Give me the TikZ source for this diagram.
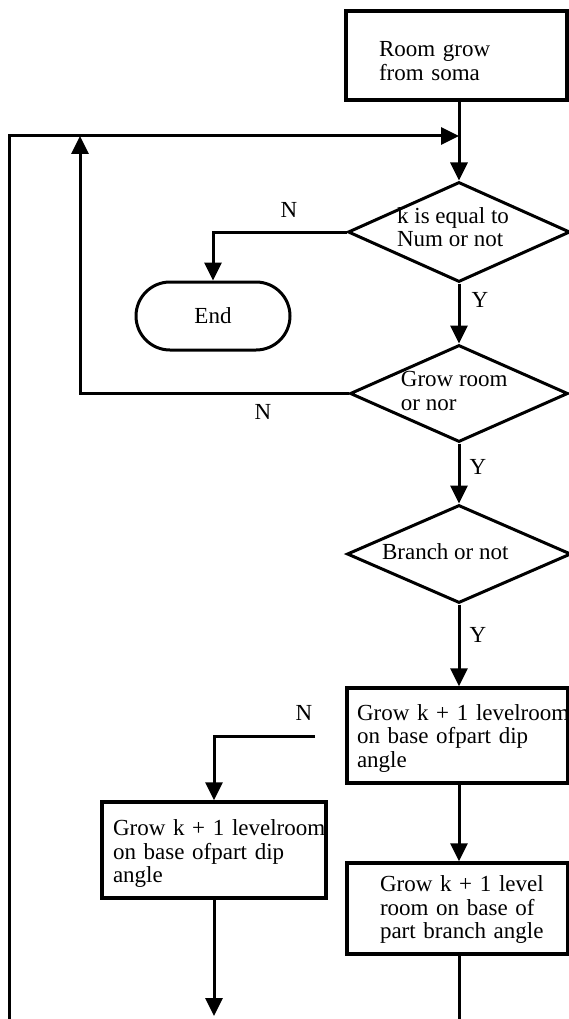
\documentclass[tikz,border=0pt]{standalone}
\usepackage{fontspec}
\setmainfont{Liberation Serif}
\usetikzlibrary{shapes.geometric,arrows.meta}
\newcommand{\lift}[1]{\rule{0pt}{#1pt}}
\begin{document}
\begin{tikzpicture}[x=1pt,y=-1pt,
  line width=3pt,
  every node/.style={font=\fontsize{23}{23.5}\selectfont},
  proc/.style={draw, rectangle, line width=3.4pt, inner ysep=0pt, align=left},
  dec/.style={draw, diamond, line width=3pt, inner sep=0pt},
  dectext/.style={align=left, inner sep=0pt},
  term/.style={draw, rectangle, rounded corners=34pt, line width=3pt, minimum width=154pt, minimum height=68pt},
  lbl/.style={inner sep=0pt},
  arr/.style={-{Triangle[length=18pt,width=17pt]}}]
\path[use as bounding box, clip] (0,0) rectangle (569,1019);
\fill[white] (0,0) rectangle (569,1019);

% nodes
\node[proc, minimum width=221pt, minimum height=89pt, text width=155pt, inner xsep=0pt] (start) at (456.5,55.5) {\lift{26.5}Room grow\\from soma};
\node[dec, minimum width=222pt, minimum height=100pt,
  label={[dectext,xshift=-6pt,yshift=5pt]center:k is equal to\\Num or not}] (d1) at (459,232) {};
\node[term] (end) at (213,316) {\raisebox{-2pt}{End}};
\node[dec, minimum width=218pt, minimum height=97pt,
  label={[dectext,xshift=-4.7pt,yshift=2.3pt]center:Grow room\\or nor}] (d2) at (459,393.5) {};
\node[dec, minimum width=224pt, minimum height=98pt,
  label={[dectext,xshift=-13.7pt,yshift=2.8pt]center:Branch or not}] (d3) at (459,554) {};
\node[proc, minimum width=221pt, minimum height=95pt, text width=201pt, inner xsep=0pt] (b2) at (457.5,735.5) {\lift{21}\mbox{Grow k + 1 levelroom}\\on base ofpart dip\\angle};
\node[proc, minimum width=221pt, minimum height=91pt, text width=155pt, inner xsep=0pt] (b3) at (457.5,908.5) {\lift{18.4}\mbox{Grow k + 1 level}\\\mbox{room on base of}\\\mbox{part branch angle}};
\node[proc, minimum width=224pt, minimum height=96pt, text width=202pt, inner xsep=0pt] (b4) at (214,850) {\lift{23.4}\mbox{Grow k + 1 levelroom}\\on base ofpart dip\\angle};

% labels
\node[lbl] (n1) at (289,210) {N};
\node[lbl] (y1) at (480,300) {Y};
\node[lbl] (n2) at (263,412) {N};
\node[lbl] (y2) at (478,467) {Y};
\node[lbl] (y3) at (478,635) {Y};
\node[lbl] (n3) at (304,713) {N};

% coordinates
\coordinate (loopbot) at (9,1019);
\coordinate (loopcorner) at (9,136);
\coordinate (join) at (459,136);
\coordinate (n2corner) at (80,393.5);
\coordinate (n2tip) at (80,136);
\coordinate (n3start) at (315,736);
\coordinate (b3end) at (459,1019);
\coordinate (b4end) at (214,1016);

% connectors
\draw[arr] (d1.north |- start.south) -- (d1.north);
\draw[arr] (loopbot) -- (loopcorner) -- (join);
\draw[arr] (d1.west) -| (end.north);
\draw[arr] (d1.south) -- (d2.north);
\draw[arr] (d2.west) -- (n2corner) -- (n2tip);
\draw[arr] (d2.south) -- (d3.north);
\draw[arr] (d3.south) -- (d3.south |- b2.north);
\draw[arr] (d3.south |- b2.south) -- (d3.south |- b3.north);
\draw (d3.south |- b3.south) -- (b3end);
\draw[arr] (n3start) -| (b4.north);
\draw[arr] (b4.south) -- (b4end);
\end{tikzpicture}
\end{document}
